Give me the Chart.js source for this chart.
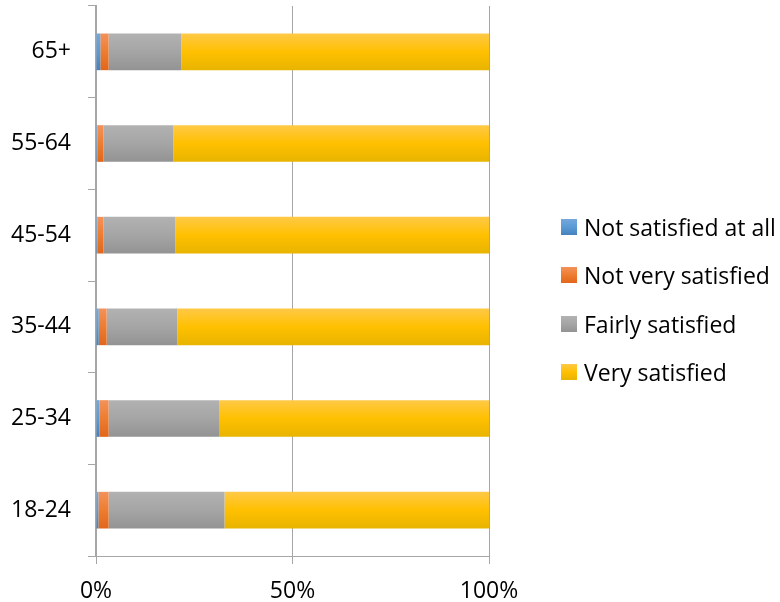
<!DOCTYPE html>
<html>
<head>
<meta charset="utf-8">
<script src="https://cdn.jsdelivr.net/npm/chart.js@4/dist/chart.umd.min.js"></script>
<style>
  body { margin: 0; background: #fff; }
  #wrap { position: relative; width: 780px; height: 602px; }
  #legend { position: absolute; left: 561px; top: 203px; font-family: "Open Sans", sans-serif; font-size: 23px; color: #000; }
  .item { height: 48.3px; display: flex; align-items: center; white-space: nowrap; }
  .sw { width: 16px; height: 16px; margin-right: 7px; flex: none; }
</style>
</head>
<body>
<div id="wrap">
  <canvas id="chart" width="780" height="602"></canvas>
  <div id="legend"></div>
</div>
<script>
// --- DATA ---
const AGE_GROUPS = ['65+', '55-64', '45-54', '35-44', '25-34', '18-24'];
const NOT_AT_ALL = [1.1, 0.4, 0.4, 0.7, 0.9, 0.6];
const NOT_VERY = [2.1, 1.5, 1.5, 2.0, 2.3, 2.6];
const FAIRLY = [18.5, 17.8, 18.3, 18.0, 28.1, 29.5];
const VERY = [78.3, 80.3, 79.8, 79.3, 68.7, 67.3];
const X_TICKS = [0, 50, 100];

// light / base / dark for the excel style gradient
const SERIES = [
  { label: 'Not satisfied at all', data: NOT_AT_ALL, c: ['#73a8dc', '#5b9bd5', '#4581bd'] },
  { label: 'Not very satisfied', data: NOT_VERY, c: ['#f4925a', '#ed7d31', '#e1661a'] },
  { label: 'Fairly satisfied', data: FAIRLY, c: ['#b2b2b2', '#a5a5a5', '#939393'] },
  { label: 'Very satisfied', data: VERY, c: ['#ffc947', '#ffc000', '#e8b400'] }
];

const GRID = '#a6a6a6';
const FONT = { family: '"Open Sans", sans-serif', size: 23 };

function barGradient(ctx, cols) {
  const chart = ctx.chart, ys = chart.scales.y;
  if (!ys || !chart.chartArea) return cols[1];
  const mid = ys.getPixelForValue(ctx.dataIndex);
  const half = (ys.height / AGE_GROUPS.length) * 0.4 / 2;
  const g = chart.ctx.createLinearGradient(0, mid - half, 0, mid + half);
  g.addColorStop(0, cols[0]); g.addColorStop(0.5, cols[1]); g.addColorStop(1, cols[2]);
  return g;
}

const chart = new Chart(document.getElementById('chart').getContext('2d'), {
  type: 'bar',
  data: {
    labels: AGE_GROUPS,
    datasets: SERIES.map(s => ({
      label: s.label, data: s.data, borderWidth: 0,
      backgroundColor: ctx => barGradient(ctx, s.c),
      barPercentage: 0.4, categoryPercentage: 1
    }))
  },
  options: {
    indexAxis: 'y', responsive: false, animation: false,
    layout: { padding: { top: 6, right: 291, left: 0, bottom: 0 } },
    plugins: { legend: { display: false }, tooltip: { enabled: false } },
    scales: {
      x: {
        stacked: true, min: 0, max: 100,
        afterBuildTicks: sc => { sc.ticks = X_TICKS.map(v => ({ value: v })); },
        afterFit: sc => { sc.height = 46; sc.paddingLeft = 0; sc.paddingRight = 0; },
        grid: { color: GRID, lineWidth: 1, tickLength: 8 },
        border: { color: GRID, width: 1 },
        ticks: { color: '#000', font: FONT, padding: 14, callback: v => v + '%' }
      },
      y: {
        stacked: true,
        // labels sit inside their bands, no need for the extra top room
        afterFit: sc => { sc.width = 96; sc.paddingTop = 0; sc.paddingBottom = 0; },
        grid: { drawOnChartArea: false, color: GRID, tickLength: 8, offset: true },
        border: { color: GRID, width: 2 },
        ticks: { color: '#000', font: FONT, padding: 17 }
      }
    }
  }
});

// --- LEGEND ---
const leg = document.getElementById('legend');
SERIES.forEach(s => {
  const row = document.createElement('div'); row.className = 'item';
  row.innerHTML = `<span class="sw" style="background:linear-gradient(${s.c[0]},${s.c[1]},${s.c[2]})"></span><span>${s.label}</span>`;
  leg.appendChild(row);
});
</script>
</body>
</html>
